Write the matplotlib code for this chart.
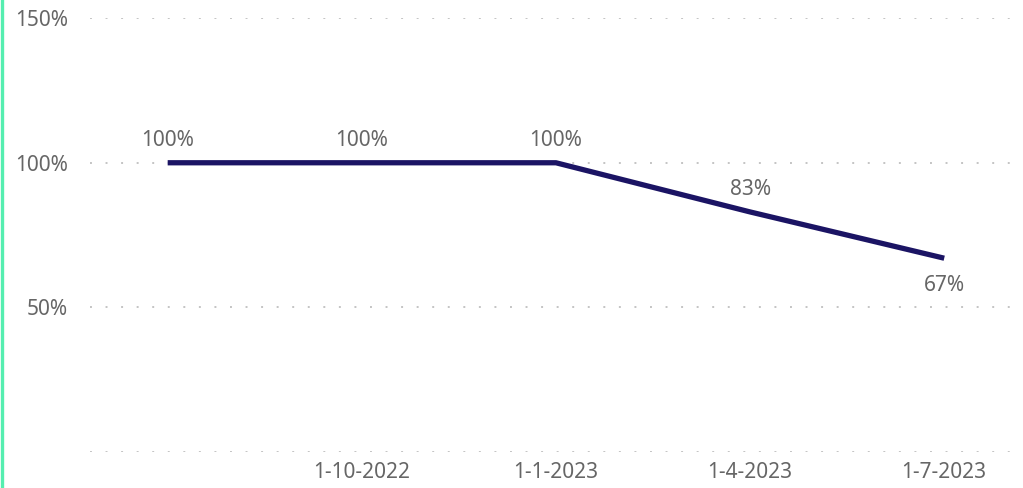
import matplotlib.pyplot as plt
from matplotlib.lines import Line2D

# quarterly values (percent)
dates = ['1-7-2022', '1-10-2022', '1-1-2023', '1-4-2023', '1-7-2023']
values = [100, 100, 100, 83, 67]
label_below = [False, False, False, False, True]
shown_ticks = ['1-10-2022', '1-1-2023', '1-4-2023', '1-7-2023']

plt.rcParams['font.family'] = ['Noto Sans', 'DejaVu Sans']
grey = '#666666'
fs = 15

fig = plt.figure(figsize=(10.23, 4.88), dpi=100)
ax = fig.add_axes([0.088, 0.0738, 0.909, 0.889])

x = list(range(len(dates)))
ax.plot(x, values, color='#1b1464', lw=3.8, solid_capstyle='butt', zorder=3)

for xi, v, below in zip(x, values, label_below):
    off = -27 if below else 22
    ax.annotate(f'{v}%', (xi, v), xytext=(0, off), textcoords='offset pixels',
                ha='center', va='center', fontsize=fs, color=grey)

ax.set_ylim(0, 150)
ax.set_xlim(-0.4, 4.39)
ax.set_yticks([0, 50, 100, 150])
ax.set_yticklabels(['', '50%', '100%', '150%'])
ax.set_xticks([dates.index(d) for d in shown_ticks])
ax.set_xticklabels(shown_ticks)
ax.tick_params(length=0, labelsize=fs, labelcolor=grey)
ax.tick_params(axis='y', pad=16)
ax.tick_params(axis='x', pad=7)

ax.grid(axis='y', color='#c4c4c4', lw=1.4, linestyle=(0, (1, 7)))
ax.grid(axis='x', visible=False)
for s in ax.spines.values():
    s.set_visible(False)

# thin accent bar on the left edge
fig.add_artist(Line2D([0.0015, 0.0015], [0, 1], transform=fig.transFigure,
                      color='#55eeb0', lw=2.4))

fig.savefig('out.png', dpi=100)
